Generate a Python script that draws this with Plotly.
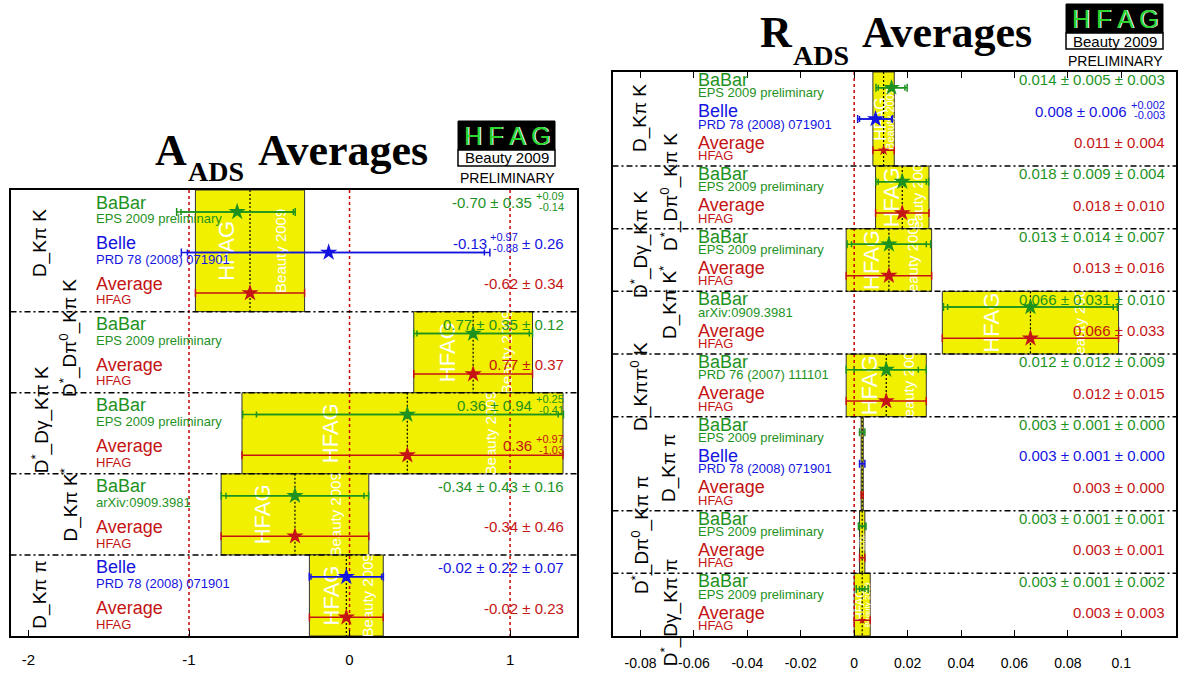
import math
import plotly.graph_objects as go

W, H = 1178, 676
ARIAL = "Arial, 'Liberation Sans', sans-serif"
TIMES = "'Times New Roman', 'Liberation Serif', serif"

GREEN = "#1e921e"
BLUE = "#1414e0"
RED = "#c41414"
YELLOW = "#f0f000"
SRC_COLOR = {"BaBar": GREEN, "Belle": BLUE, "Average": RED}

# ---------------- A_ADS ----------------
a_sections = ["D_Kπ K", "D<sup>*</sup>_Dπ<sup>0</sup>_Kπ K", "D<sup>*</sup>_Dγ_Kπ K",
              "D_Kπ K<sup>*</sup>", "D_Kπ π"]
a_sec = [0, 0, 0, 1, 1, 2, 2, 3, 3, 4, 4]
a_src = ["BaBar", "Belle", "Average", "BaBar", "Average", "BaBar", "Average",
         "BaBar", "Average", "Belle", "Average"]
a_ref = ["EPS 2009 preliminary", "PRD 78 (2008) 071901", "HFAG",
         "EPS 2009 preliminary", "HFAG", "EPS 2009 preliminary", "HFAG",
         "arXiv:0909.3981", "HFAG", "PRD 78 (2008) 071901", "HFAG"]
a_val = [-0.70, -0.13, -0.62, 0.77, 0.77, 0.36, 0.36, -0.34, -0.34, -0.02, -0.02]
a_stat_hi = [0.35, 0.97, 0.34, 0.35, 0.37, 0.94, 0.97, 0.43, 0.46, 0.22, 0.23]
a_stat_lo = [0.35, 0.88, 0.34, 0.35, 0.37, 0.94, 1.03, 0.43, 0.46, 0.22, 0.23]
a_syst_hi = [0.09, 0.26, 0.0, 0.12, 0.0, 0.25, 0.0, 0.16, 0.0, 0.07, 0.0]
a_syst_lo = [0.14, 0.26, 0.0, 0.12, 0.0, 0.41, 0.0, 0.16, 0.0, 0.07, 0.0]
a_ticks = [-2, -1, 0, 1]
a_ticktext = ["-2", "-1", "0", "1"]

# ---------------- R_ADS ----------------
r_sections = ["D_Kπ K", "D<sup>*</sup>_Dπ<sup>0</sup>_Kπ K", "D<sup>*</sup>_Dγ_Kπ K",
              "D_Kπ K<sup>*</sup>", "D_Kππ<sup>0</sup> K", "D_Kπ π",
              "D<sup>*</sup>_Dπ<sup>0</sup>_Kπ π", "D<sup>*</sup>_Dγ_Kπ π"]
r_sec = [0, 0, 0, 1, 1, 2, 2, 3, 3, 4, 4, 5, 5, 5, 6, 6, 7, 7]
r_src = ["BaBar", "Belle", "Average", "BaBar", "Average", "BaBar", "Average",
         "BaBar", "Average", "BaBar", "Average", "BaBar", "Belle", "Average",
         "BaBar", "Average", "BaBar", "Average"]
r_ref = ["EPS 2009 preliminary", "PRD 78 (2008) 071901", "HFAG",
         "EPS 2009 preliminary", "HFAG", "EPS 2009 preliminary", "HFAG",
         "arXiv:0909.3981", "HFAG", "PRD 76 (2007) 111101", "HFAG",
         "EPS 2009 preliminary", "PRD 78 (2008) 071901", "HFAG",
         "EPS 2009 preliminary", "HFAG", "EPS 2009 preliminary", "HFAG"]
r_val = [0.014, 0.008, 0.011, 0.018, 0.018, 0.013, 0.013, 0.066, 0.066,
         0.012, 0.012, 0.003, 0.003, 0.003, 0.003, 0.003, 0.003, 0.003]
r_stat_hi = [0.005, 0.006, 0.004, 0.009, 0.010, 0.014, 0.016, 0.031, 0.033,
             0.012, 0.015, 0.001, 0.001, 0.0004, 0.001, 0.001, 0.001, 0.003]
r_stat_lo = [0.005, 0.006, 0.004, 0.009, 0.010, 0.014, 0.016, 0.031, 0.033,
             0.012, 0.015, 0.001, 0.001, 0.0004, 0.001, 0.001, 0.001, 0.003]
r_syst_hi = [0.003, 0.002, 0.0, 0.004, 0.0, 0.007, 0.0, 0.010, 0.0,
             0.009, 0.0, 0.000, 0.000, 0.0, 0.001, 0.0, 0.002, 0.0]
r_syst_lo = [0.003, 0.003, 0.0, 0.004, 0.0, 0.007, 0.0, 0.010, 0.0,
             0.009, 0.0, 0.000, 0.000, 0.0, 0.001, 0.0, 0.002, 0.0]
r_ticks = [-0.08, -0.06, -0.04, -0.02, 0, 0.02, 0.04, 0.06, 0.08, 0.1]
r_ticktext = ["-0.08", "-0.06", "-0.04", "-0.02", "0", "0.02", "0.04", "0.06", "0.08", "0.1"]


def px(x):
    return x / W


def py(y):
    return 1 - y / H


def text_width(s, size):
    widths = {".": 0.278, "-": 0.333, "+": 0.584, "±": 0.549, " ": 0.278}
    return sum(widths.get(c, 0.556) for c in s) * size


panels = [
    dict(xa="x", ya="y", sections=a_sections, sec=a_sec, src=a_src, ref=a_ref,
         val=a_val, shi=a_stat_hi, slo=a_stat_lo, yhi=a_syst_hi, ylo=a_syst_lo,
         dec=2, frame=(10.5, 577, 190, 636), xr=[-2.112, 1.417],
         ticks=a_ticks, ticktext=a_ticktext, tickfont=15, standoff=9, mirror=True,
         name_px=96, value_px=564, y_name=0.31, y_ref=0.71, y_star=0.54,
         stack_up=6.5, stack_dn=-4.5, small=11,
         red=[-1, 0, 1],
         lab_y=[1.31, 3.65, 5.68, 7.78, 9.98], lab_x=[40, 69, 40, 69, 40]),
    dict(xa="x2", ya="y2", sections=r_sections, sec=r_sec, src=r_src, ref=r_ref,
         val=r_val, shi=r_stat_hi, slo=r_stat_lo, yhi=r_syst_hi, ylo=r_syst_lo,
         dec=3, frame=(612.5, 1176, 72, 636), xr=[-0.0905, 0.1205],
         ticks=r_ticks, ticktext=r_ticktext, tickfont=14, standoff=13, mirror="allticks",
         name_px=698, value_px=1165, y_name=0.25, y_ref=0.67, y_star=0.5,
         stack_up=6.0, stack_dn=-4.0, small=11,
         red=[0],
         lab_y=[1.47, 3.83, 5.52, 7.37, 10.05, 12.64, 14.78, 17.27],
         lab_x=[640, 669, 640, 669, 640, 669, 640, 669]),
]

fig = go.Figure()
shapes = []
annotations = []
layout_axes = {}


def add_text(text, x, y, xref, yref, size, color, xanchor="left", yanchor="middle",
             angle=0, family=ARIAL, xshift=0, yshift=0):
    annotations.append(dict(
        text=text, x=x, y=y, xref=xref, yref=yref, showarrow=False,
        xanchor=xanchor, yanchor=yanchor, textangle=angle, xshift=xshift, yshift=yshift,
        font=dict(family=family, size=size, color=color),
        borderpad=0, borderwidth=0))


def watermark(text, xc, y0, y1, xref, yref, size):
    # invisible carrier shape whose label sits beneath the data markers
    eps = 1e-9
    shapes.append(dict(
        type="rect", xref=xref, yref=yref, x0=xc - eps, x1=xc + eps, y0=y0, y1=y1,
        line=dict(width=0), fillcolor="rgba(0,0,0,0)", layer="below",
        label=dict(text=text, textangle=-90, textposition="middle center",
                   font=dict(family=ARIAL, size=size, color="white"), padding=0)))


for k, p in enumerate(panels):
    x0, x1, y0, y1 = p["frame"]
    nrows = len(p["val"])
    ppu = (x1 - x0) / (p["xr"][1] - p["xr"][0])  # pixels per x unit
    sfx = "" if k == 0 else "2"
    layout_axes["xaxis" + sfx] = dict(
        domain=[px(x0), px(x1)], range=p["xr"], anchor="y" + sfx,
        tickvals=p["ticks"], ticktext=p["ticktext"], ticks="inside", ticklen=6,
        tickwidth=1, tickcolor="black", showline=True, linecolor="black", linewidth=1.5,
        mirror=p["mirror"], showgrid=False, zeroline=False,
        tickfont=dict(family=ARIAL, size=p["tickfont"], color="black"),
        ticklabelstandoff=p["standoff"])
    layout_axes["yaxis" + sfx] = dict(
        domain=[py(y1), py(y0)], range=[nrows, 0], anchor="x" + sfx,
        showticklabels=False, ticks="", showline=True, linecolor="black", linewidth=1.5,
        mirror=True, showgrid=False, zeroline=False)

    xa, ya = p["xa"], p["ya"]
    nsec = len(p["sections"])
    sec_rows = [[i for i in range(nrows) if p["sec"][i] == s] for s in range(nsec)]

    # yellow average bands with the white HFAG watermark
    for s in range(nsec):
        avg = sec_rows[s][-1]
        top, bot = sec_rows[s][0], sec_rows[s][-1] + 1
        lo = p["val"][avg] - p["slo"][avg]
        hi = p["val"][avg] + p["shi"][avg]
        shapes.append(dict(type="rect", xref=xa, yref=ya, x0=lo, x1=hi, y0=top, y1=bot,
                           fillcolor=YELLOW, line=dict(color="#333333", width=1), layer="below"))
        wpx = (hi - lo) * ppu
        watermark("HFAG", lo + 0.27 * (hi - lo), top, bot, xa, ya,
                  max(1, round(min(22, 0.75 * wpx))))
        watermark("Beauty 2009", lo + 0.77 * (hi - lo), top, bot, xa, ya,
                  max(1, round(min(15, 0.5 * wpx))))
        shapes.append(dict(type="line", xref=xa, yref=ya, x0=p["val"][avg], x1=p["val"][avg],
                           y0=top, y1=bot, line=dict(color="black", width=1.2, dash="2px,2px"),
                           layer="below"))

    # reference lines
    for xv in p["red"]:
        shapes.append(dict(type="line", xref=xa, yref=ya, x0=xv, x1=xv, y0=0, y1=nrows,
                           line=dict(color="#cc0000", width=1.5, dash="3px,3px"), layer="below"))

    # section separators
    for s in range(1, nsec):
        yb = sec_rows[s][0]
        shapes.append(dict(type="line", xref=xa, yref=ya, x0=p["xr"][0], x1=p["xr"][1],
                           y0=yb, y1=yb, line=dict(color="black", width=1.5, dash="6px,3px,2px,3px"),
                           layer="below"))

    # section labels
    for s in range(nsec):
        add_text(p["sections"][s], px(p["lab_x"][s]), p["lab_y"][s], "paper", ya, 19, "black",
                 xanchor="center", angle=-90)

    # measurements
    for i in range(nrows):
        col = SRC_COLOR[p["src"][i]]
        v = p["val"][i]
        tot_hi = math.hypot(p["shi"][i], p["yhi"][i])
        tot_lo = math.hypot(p["slo"][i], p["ylo"][i])
        ystar = i + p["y_star"]
        hw = 0.5 * (tot_hi + tot_lo) * ppu
        msize = max(3, min(13, 0.8 * hw))
        if p["yhi"][i] > 0 or p["ylo"][i] > 0:
            fig.add_trace(go.Scatter(
                x=[v], y=[ystar], xaxis=xa, yaxis=ya, mode="markers",
                marker=dict(color="rgba(0,0,0,0)", size=1),
                error_x=dict(type="data", symmetric=False, array=[p["shi"][i]],
                             arrayminus=[p["slo"][i]], color=col, thickness=1.5, width=3),
                showlegend=False, hoverinfo="skip"))
        fig.add_trace(go.Scatter(
            x=[v], y=[ystar], xaxis=xa, yaxis=ya, mode="markers",
            marker=dict(symbol="star", color=col, size=msize, line=dict(width=0)),
            error_x=dict(type="data", symmetric=False, array=[tot_hi], arrayminus=[tot_lo],
                         color=col, thickness=1.5, width=4),
            showlegend=False, hoverinfo="skip"))

        # names and references
        add_text(p["src"][i], px(p["name_px"]), i + p["y_name"], "paper", ya, 18, col)
        add_text(p["ref"][i], px(p["name_px"]), i + p["y_ref"], "paper", ya, 13, col)

        # value string, assembled right to left
        d = p["dec"]
        items = [["text", f"{v:.{d}f}"]]

        def add_err(hi, lo):
            if abs(hi - lo) < 1e-12:
                if items[-1][0] == "text":
                    items[-1][1] += f" ± {hi:.{d}f}"
                else:
                    items.append(["text", f"± {hi:.{d}f}"])
            else:
                items.append(["stack", f"+{hi:.{d}f}", f"-{lo:.{d}f}"])

        add_err(p["shi"][i], p["slo"][i])
        if p["src"][i] != "Average":
            add_err(p["yhi"][i], p["ylo"][i])

        cursor = p["value_px"]
        yname = i + p["y_name"]
        for it in reversed(items):
            if it[0] == "text":
                add_text(it[1], px(cursor), yname, "paper", ya, 15, col, xanchor="right")
                cursor -= text_width(it[1], 15) + 4
            else:
                small = p["small"]
                add_text(it[1], px(cursor), yname, "paper", ya, small, col, xanchor="right",
                         yshift=p["stack_up"])
                add_text(it[2], px(cursor), yname, "paper", ya, small, col, xanchor="right",
                         yshift=p["stack_dn"])
                cursor -= max(text_width(it[1], small), text_width(it[2], small)) + 4

# titles
titles = [("A", 155, 150, 188, 172, 258), ("R", 760, 33, 793, 55, 862)]
for letter, xl, ym, xs, ys, xa_ in titles:
    add_text(f"<b>{letter}</b>", px(xl), py(ym), "paper", "paper", 44, "black", family=TIMES)
    add_text("<b>ADS</b>", px(xs), py(ys), "paper", "paper", 28, "black", family=TIMES)
    add_text("<b>Averages</b>", px(xa_), py(ym), "paper", "paper", 44, "black", family=TIMES)

# HFAG logos
for dx, dy in [(0, 0), (608, -117)]:
    bx0, bx1 = 458 + dx, 555 + dx
    shapes.append(dict(type="rect", xref="paper", yref="paper", x0=px(bx0), x1=px(bx1),
                       y0=py(150 + dy), y1=py(121 + dy), fillcolor="black",
                       line=dict(color="black", width=1)))
    shapes.append(dict(type="rect", xref="paper", yref="paper", x0=px(bx0), x1=px(bx1),
                       y0=py(166 + dy), y1=py(150 + dy), fillcolor="white",
                       line=dict(color="black", width=1.5)))
    for ch, cx in zip("HFAG", [473, 495, 517, 540]):
        add_text(ch, px(cx + dx + 1.2), py(136 + dy), "paper", "paper", 25, "white",
                 xanchor="center")
        add_text(ch, px(cx + dx), py(136 + dy), "paper", "paper", 25, "#2ed62e",
                 xanchor="center")
    add_text("Beauty 2009", px((bx0 + bx1) / 2), py(158 + dy), "paper", "paper", 15, "black",
             xanchor="center")
    add_text("PRELIMINARY", px((bx0 + bx1) / 2 + 1), py(178 + dy), "paper", "paper", 14,
             "black", xanchor="center")

fig.update_layout(
    width=W, height=H, margin=dict(l=0, r=0, t=0, b=0),
    paper_bgcolor="white", plot_bgcolor="white",
    showlegend=False, shapes=shapes, annotations=annotations, **layout_axes)

fig.write_html("out.html")
